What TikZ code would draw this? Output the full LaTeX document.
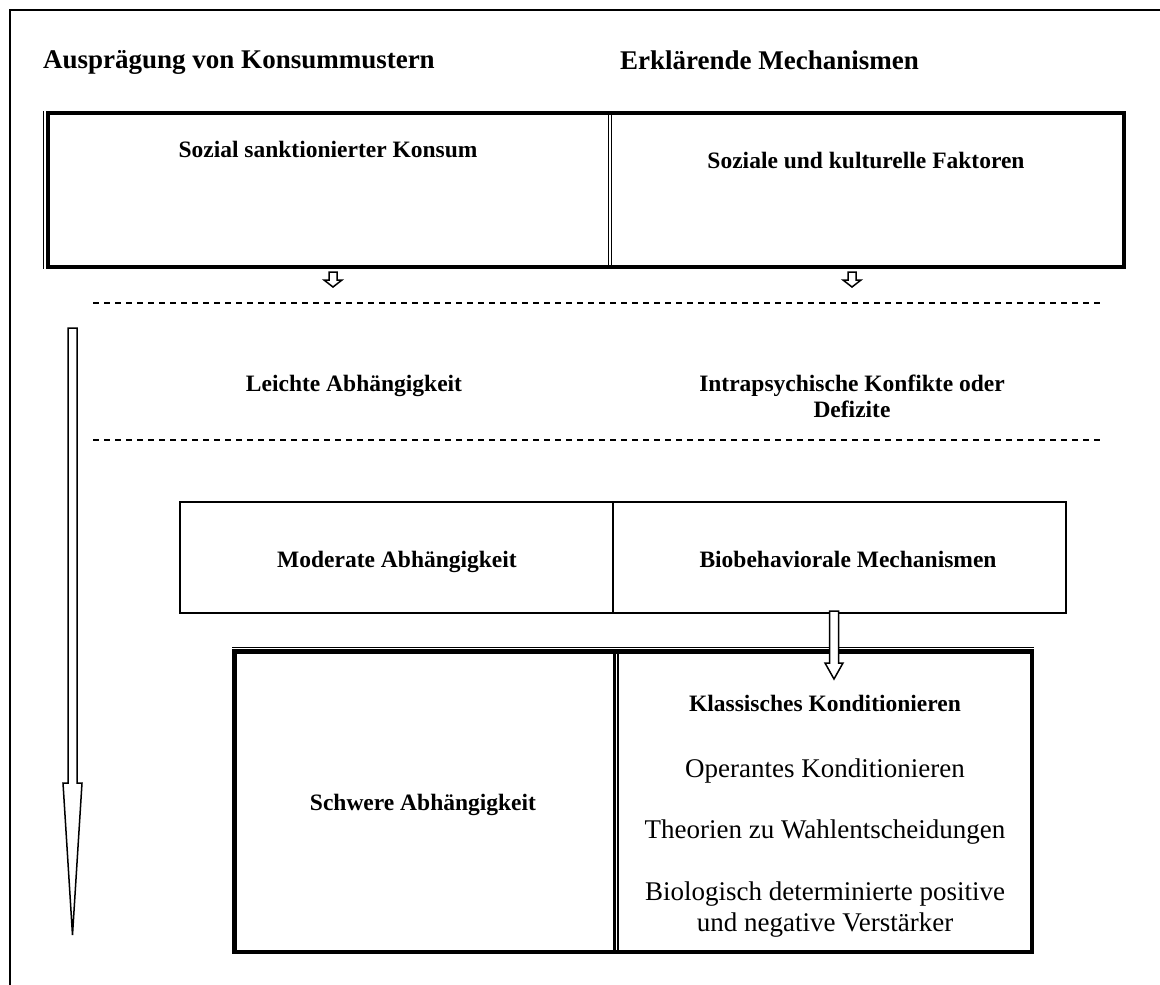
\documentclass[tikz,border=0pt]{standalone}
\usepackage{fontspec}
\setmainfont{Liberation Serif}
\begin{document}
\begin{tikzpicture}[x=1pt,y=-1pt,
  frame/.style={line width=2pt},
  heavy/.style={line width=4pt},
  hair/.style={line width=1.5pt},
  plain/.style={line width=2pt},
  sep/.style={line width=2.5pt, dash pattern=on 6pt off 5pt},
  blockarrow/.style={line width=1.5pt, fill=white, line join=miter},
  head/.style={font=\fontsize{27}{31}\selectfont\bfseries, anchor=base west, inner sep=0pt},
  lbl/.style={font=\fontsize{23.5}{26}\selectfont\bfseries, align=center, inner sep=0pt, anchor=base},
  item/.style={font=\fontsize{27}{31}\selectfont, align=center, inner sep=0pt, anchor=base},
  pics/hollowdown/.style n args={4}{code={
    % length, shaft half width, head half width, head length
    \draw[blockarrow] (-#2,0) -- (-#2,{#1-#4}) -- (-#3,{#1-#4}) -- (0,#1)
      -- (#3,{#1-#4}) -- (#2,{#1-#4}) -- (#2,0) -- cycle;
  }},
]
\useasboundingbox (0,0) rectangle (1160,985);

% outer frame (top and left)
\draw[frame] (10,985) -- (10,10) -- (1160,10);

% column headings
\node[head] (hl) at (43,68) {Ausprägung von Konsummustern};
\node[head] (hr) at (620,69) {Erklärende Mechanismen};

% first row: framed box
\draw[heavy] (47.5,113) rectangle (1124,266.5);
\draw[hair] (43.5,111) -- (43.5,268.5);
\draw[hair] (608.5,113) -- (608.5,266.5);
\draw[hair] (611.5,113) -- (611.5,266.5);
\node[lbl] (sk) at (328,157) {Sozial sanktionierter Konsum};
\node[lbl] (sf) at (866,168) {Soziale und kulturelle Faktoren};
\coordinate (a1) at (333,272);
\coordinate (a2) at (852,272);
\pic at (a1) {hollowdown={15}{4}{9}{7}};
\pic at (a2) {hollowdown={15}{4}{9}{7}};

% second row between dashed rules
\draw[sep] (93,303) -- (1100,303);
\draw[sep] (93,440) -- (1100,440);
\node[lbl] (la) at (354,391) {Leichte Abhängigkeit};
\node[lbl, anchor=north] (ik) at (852,375) {Intrapsychische Konfikte oder\\Defizite};

% third row
\draw[plain] (180,502) rectangle (1066,613);
\draw[plain] (613,502) -- (613,613);
\node[lbl] (ma) at (397,567) {Moderate Abhängigkeit};
\node[lbl] (bm) at (848,567) {Biobehaviorale Mechanismen};

% fourth row: heavy box
\draw[line width=4.5pt] (234.5,651.5) rectangle (1032,952);
\draw[hair] (232.2,647.5) -- (1034.2,647.5);
\draw[line width=3pt] (614.5,651.5) -- (614.5,952);
\draw[hair] (618,651.5) -- (618,952);
\node[lbl] (sa) at (423,810) {Schwere Abhängigkeit};
\node[lbl] (kk) at (825,711) {Klassisches Konditionieren};
\node[item] (ok) at (825,777) {Operantes Konditionieren};
\node[item] (tw) at (825,838) {Theorien zu Wahlentscheidungen};
\node[item, anchor=north] (bv) at (825,882) {Biologisch determinierte positive\\und negative Verstärker};

% arrow from the mechanisms row into the heavy box
\coordinate (a3) at (834,611);
\pic at (a3) {hollowdown={68}{4.5}{9}{16}};

% long arrow along the left side
\coordinate (a0) at (72.5,328);
\pic at (a0) {hollowdown={607}{4.5}{9.5}{152}};
\end{tikzpicture}
\end{document}
